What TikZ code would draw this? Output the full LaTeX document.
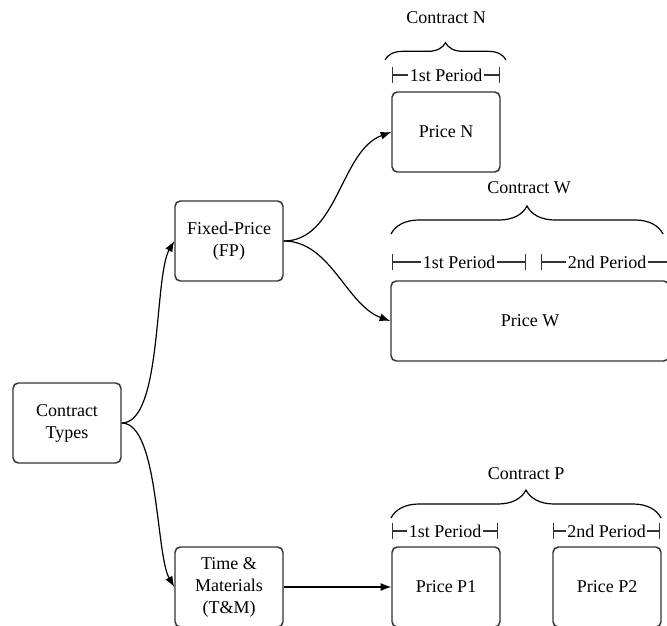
\documentclass[tikz,border=0pt]{standalone}
\usepackage{fontspec}
\setmainfont{Liberation Serif}
\usepackage{tikz}
\usetikzlibrary{arrows.meta, positioning, decorations.pathreplacing}
\definecolor{linegray}{HTML}{333333}

\tikzset{
  box/.style={rectangle, rounded corners=4pt, draw=linegray, line width=1.1pt,
    minimum width=81pt, minimum height=60pt, align=center, inner sep=2pt,
    font=\fontsize{13.5}{16.5}\selectfont},
  link/.style={draw=black, line width=0.9pt, -{Latex[length=8pt,width=6pt]}},
  span/.style={draw=linegray, line width=0.9pt, {Bar[width=12pt]}-{Bar[width=12pt]}},
  spanlabel/.style={fill=white, inner sep=1pt, font=\fontsize{13.5}{16.5}\selectfont},
  curly/.style={draw=black, line width=0.9pt, decorate,
    decoration={brace, amplitude=#1}},
  curly/.default=13pt,
  bracelabel/.style={font=\fontsize{13.5}{16.5}\selectfont}
}

\begin{document}
\begin{tikzpicture}[x=0.75pt, y=-0.75pt]
\useasboundingbox (0,0) rectangle (667,625);
\clip (0,0) rectangle (667,625);

% category boxes
\node[box] (types) at (67,423) {Contract\\Types};
\node[box] (fp) at (229,241) {Fixed-Price\\(FP)};
\node[box] (tm) at (229,587) {Time \&\\Materials\\(T\&M)};

% price boxes
\node[box] (priceN) at (446,132) {Price N};
\node[box, minimum width=208.5pt] (priceW) at (530,321) {Price W};
\node[box] (priceP1) at (446,587) {Price P1};
\node[box] (priceP2) at (607,587) {Price P2};

% connectors
\draw[link] (types.east) to[out=0, in=240, looseness=0.55] (fp.west);
\draw[link] (types.east) to[out=0, in=120, looseness=0.55] (tm.west);
\draw[link] (fp.east) to[out=0, in=200, looseness=0.9] (priceN.west);
\draw[link] (fp.east) to[out=0, in=160, looseness=0.9] (priceW.west);
\draw[link] (tm.east) -- (priceP1.west);

% periods
\draw[span] (392,75) -- node[spanlabel] {1st Period} (500,75);
\draw[span] (392,262) -- node[spanlabel] {1st Period} (526,262);
\draw[span] (541,262) -- node[spanlabel] {2nd Period} (673,262);
\draw[span] (392,531) -- node[spanlabel] {1st Period} (498,531);
\draw[span] (553,531) -- node[spanlabel] {2nd Period} (660,531);

% contracts
\draw[curly=13pt] (385,60) -- (506,60);
\node[bracelabel] (contractN) at (446,18) {Contract N};
\draw[curly=21pt] (391,234) -- (663,234);
\node[bracelabel] (contractW) at (529,188) {Contract W};
\draw[curly=21pt] (391,518) -- (661,518);
\node[bracelabel] (contractP) at (526,474) {Contract P};
\end{tikzpicture}
\end{document}
